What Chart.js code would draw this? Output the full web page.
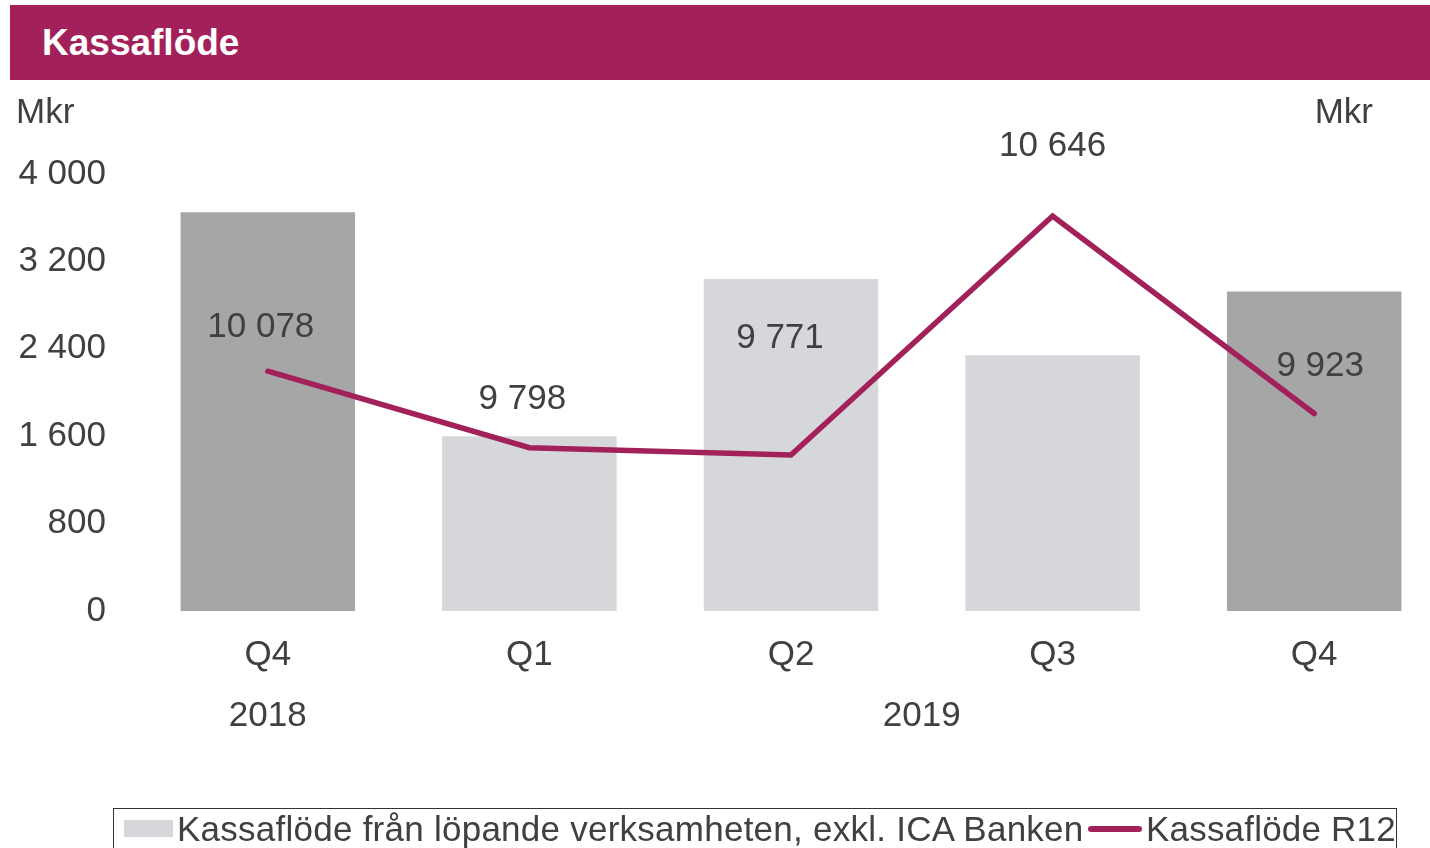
<!DOCTYPE html>
<html>
<head>
<meta charset="utf-8">
<script src="https://cdn.jsdelivr.net/npm/chart.js@4.4.1/dist/chart.umd.min.js"></script>
<style>
  html, body { margin:0; padding:0; overflow:hidden; background:#fff; width:1430px; height:848px; }
  body { font-family:"Liberation Sans", Arial, sans-serif; color:#404040; position:relative; }
  #wrap { position:absolute; left:0; top:0; width:1445px; height:848px; }
  #titlebar { position:absolute; left:10px; top:5px; width:1420px; height:75px; background:#A3215A;
    color:#fff; font-weight:bold; font-size:37px; line-height:75px; box-sizing:border-box; padding-left:32px; z-index:2; }
  .unit { position:absolute; top:93px; font-size:35px; line-height:35px; z-index:2; color:#404040; }
  #legend { position:absolute; left:113px; top:808px; width:1282px; height:50px; border:1.5px solid #333; z-index:2; }
  #legend .sw { position:absolute; }
  #legend .tx { position:absolute; font-size:35px; line-height:35px; white-space:nowrap; color:#404040; }
</style>
</head>
<body>
<div id="wrap"><canvas id="c" width="1445" height="848"></canvas></div>
<div id="titlebar">Kassaflöde</div>
<div class="unit" style="left:16px;">Mkr</div>
<div class="unit" style="right:57px;">Mkr</div>
<div id="legend">
  <div class="sw" style="left:9.5px;top:10.5px;width:49px;height:17px;background:#D6D7DB;"></div>
  <div class="tx" style="left:63px;top:2px;letter-spacing:0.25px;">Kassaflöde från löpande verksamheten, exkl. ICA Banken</div>
  <div class="sw" style="left:974px;top:17px;width:54px;height:5.5px;border-radius:3px;background:#A3215A;"></div>
  <div class="tx" style="left:1032px;top:2px;letter-spacing:0.2px;">Kassaflöde R12</div>
</div>
<script>
// ---- data ----
const categories = ['Q4', 'Q1', 'Q2', 'Q3', 'Q4'];
const years = ['2018', '2019'];
const yearFirstIndex = [0, 1];
const yearLastIndex = [0, 4];
const cashFlowOperating = [3650, 1600, 3040, 2340, 2925];
const cashFlowR12 = [10078, 9798, 9771, 10646, 9923];
const leftTickMin = 0, leftTickMax = 4000, leftTickStep = 800;
const rightMin = 9200, rightMax = 10800;

// ---- styles ----
const barColors = ['#A6A6A6', '#D6D7DB', '#D6D7DB', '#D6D7DB', '#A6A6A6'];
const lineColor = '#A3215A';
const textColor = '#404040';
const fontFamily = '"Liberation Sans", Arial, sans-serif';
const labelShift = [[-7, -44], [-7, -48], [-11, -117], [0, -70], [6, -47]];

function fmt(n) { return String(n).replace(/\B(?=(\d{3})+(?!\d))/g, ' '); }

const extraText = {
  id: 'extraText',
  afterDatasetsDraw(chart) {
    const ctx = chart.ctx;
    ctx.save();
    ctx.font = '35px ' + fontFamily;
    ctx.fillStyle = textColor;
    ctx.textAlign = 'center';
    ctx.textBaseline = 'middle';
    // line value labels
    const meta = chart.getDatasetMeta(1);
    meta.data.forEach((pt, i) => {
      ctx.fillText(fmt(cashFlowR12[i]), pt.x + labelShift[i][0], pt.y + labelShift[i][1]);
    });
    // year labels
    const xs = chart.scales.x;
    years.forEach((yr, k) => {
      const x = (xs.getPixelForValue(yearFirstIndex[k]) + xs.getPixelForValue(yearLastIndex[k])) / 2;
      ctx.fillText(yr, x, chart.chartArea.bottom + 105);
    });
    ctx.restore();
  }
};

new Chart(document.getElementById('c'), {
  data: {
    labels: categories,
    datasets: [
      {
        type: 'bar',
        label: 'Kassaflöde från löpande verksamheten, exkl. ICA Banken',
        data: cashFlowOperating,
        backgroundColor: barColors,
        borderWidth: 0,
        categoryPercentage: 1,
        barPercentage: 0.667,
        yAxisID: 'y',
        order: 2
      },
      {
        type: 'line',
        label: 'Kassaflöde R12',
        data: cashFlowR12,
        borderColor: lineColor,
        borderWidth: 5.5,
        borderCapStyle: 'round',
        borderJoinStyle: 'miter',
        pointRadius: 0,
        tension: 0,
        fill: false,
        yAxisID: 'y2',
        order: 1
      }
    ]
  },
  options: {
    responsive: false,
    animation: false,
    devicePixelRatio: 1,
    layout: { padding: { top: 174, left: 0, right: 0, bottom: 0 } },
    plugins: { legend: { display: false }, tooltip: { enabled: false }, title: { display: false } },
    scales: {
      x: {
        type: 'category',
        offset: true,
        grid: { display: false, drawTicks: false },
        border: { display: false },
        ticks: { color: textColor, font: { family: fontFamily, size: 35 }, padding: 23, maxRotation: 0, autoSkip: false },
        afterFit(scale) { scale.height = 237; }
      },
      y: {
        position: 'left',
        min: leftTickMin, max: leftTickMax,
        grid: { display: false, drawTicks: false },
        border: { display: false },
        ticks: { stepSize: leftTickStep, color: textColor, font: { family: fontFamily, size: 35 }, padding: 31,
          callback: (v) => fmt(v) },
        afterFit(scale) { scale.width = 137; }
      },
      y2: {
        position: 'right',
        min: rightMin, max: rightMax,
        display: false
      }
    }
  },
  plugins: [extraText]
});
</script>
</body>
</html>
